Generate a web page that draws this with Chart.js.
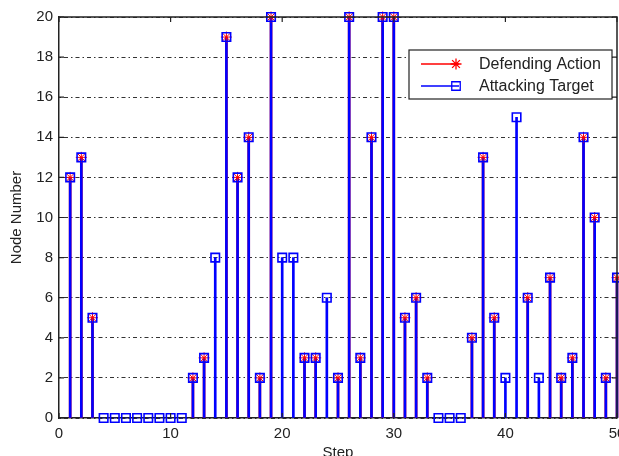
<!DOCTYPE html>
<html>
<head>
<meta charset="utf-8">
<script src="https://cdn.jsdelivr.net/npm/chart.js@4/dist/chart.umd.min.js"></script>
<style>
  html, body { margin: 0; padding: 0; background: #fff; }
  #wrap { width: 619px; height: 456px; }
</style>
</head>
<body>
<div id="wrap"><canvas id="stemChart" width="619" height="456"></canvas></div>
<script>
// Data
const steps = [1,2,3,4,5,6,7,8,9,10,11,12,13,14,15,16,17,18,19,20,21,22,23,24,25,
               26,27,28,29,30,31,32,33,34,35,36,37,38,39,40,41,42,43,44,45,46,47,48,49,50];
const attackingTarget = [12,13,5,0,0,0,0,0,0,0,0,2,3,8,19,12,14,2,20,8,8,3,3,6,2,
                         20,3,14,20,20,5,6,2,0,0,0,4,13,5,2,15,6,2,7,2,3,14,10,2,7];
// null = no defending action at that step
const defendingAction = [12,13,5,null,null,null,null,null,null,null,null,2,3,null,19,12,14,2,20,null,null,3,3,null,2,
                         20,3,14,20,20,5,6,2,null,null,null,4,13,5,null,null,6,null,7,2,3,14,10,2,7];
const xTicks = [0, 10, 20, 30, 40, 50];
const yTicks = [0, 2, 4, 6, 8, 10, 12, 14, 16, 18, 20];
const legendLabels = ['Defending Action', 'Attacking Target'];

const RED = '#ff0000';
const BLUE = '#0000ff';
const INK = '#222222';
const FONT = "'Liberation Sans', Arial, Helvetica, sans-serif";

const toPoints = vals => steps.map((s, i) => ({ x: s, y: vals[i] }));

// inward tick marks, top/right box edges and the legend box
const boxPlugin = {
    id: 'boxPlugin',
    afterDraw(chart) {
        const { ctx, chartArea: a, scales } = chart;
        ctx.save();
        ctx.strokeStyle = INK;
        ctx.lineWidth = 1.5;
        ctx.beginPath();
        ctx.moveTo(a.left, a.top);
        ctx.lineTo(a.right, a.top);
        ctx.lineTo(a.right, a.bottom);
        ctx.stroke();

        ctx.lineWidth = 1.2;
        ctx.beginPath();
        xTicks.forEach(v => {
            const px = scales.x.getPixelForValue(v);
            ctx.moveTo(px, a.bottom); ctx.lineTo(px, a.bottom - 5);
            ctx.moveTo(px, a.top); ctx.lineTo(px, a.top + 5);
        });
        yTicks.forEach(v => {
            const py = scales.y.getPixelForValue(v);
            ctx.moveTo(a.left, py); ctx.lineTo(a.left + 5, py);
            ctx.moveTo(a.right, py); ctx.lineTo(a.right - 5, py);
        });
        ctx.stroke();

        // legend
        const lx = a.left + 350, ly = a.top + 33, lw = 203, lh = 49;
        ctx.fillStyle = '#fff';
        ctx.fillRect(lx, ly, lw, lh);
        ctx.strokeStyle = INK;
        ctx.lineWidth = 1.2;
        ctx.strokeRect(lx, ly, lw, lh);

        const rows = [
            { color: RED, style: 'star', radius: 5.5, label: legendLabels[0], y: ly + 14 },
            { color: BLUE, style: 'rect', radius: 6, label: legendLabels[1], y: ly + 36 }
        ];
        rows.forEach(r => {
            ctx.strokeStyle = r.color;
            ctx.lineWidth = 1.3;
            ctx.beginPath();
            ctx.moveTo(lx + 12, r.y);
            ctx.lineTo(lx + 50, r.y);
            ctx.stroke();
            ctx.fillStyle = 'rgba(0,0,0,0)';
            ctx.lineWidth = 1.3;
            Chart.helpers.drawPoint(ctx, { pointStyle: r.style, radius: r.radius, borderWidth: 1.3 }, lx + 47, r.y);
            ctx.fillStyle = INK;
            ctx.font = '16px ' + FONT;
            ctx.textBaseline = 'middle';
            ctx.textAlign = 'left';
            ctx.fillText(r.label, lx + 70, r.y + 1);
        });
        ctx.restore();
    }
};

new Chart(document.getElementById('stemChart'), {
    type: 'bar',
    data: {
        datasets: [
            {
                label: 'Defending stems',
                data: toPoints(defendingAction),
                backgroundColor: RED,
                barThickness: 2,
                grouped: false,
                order: 4
            },
            {
                label: 'Attacking stems',
                data: toPoints(attackingTarget),
                backgroundColor: BLUE,
                barThickness: 2,
                grouped: false,
                order: 3
            },
            {
                type: 'line',
                label: legendLabels[0],
                data: toPoints(defendingAction),
                showLine: false,
                pointStyle: 'star',
                pointRadius: 5.5,
                pointBorderWidth: 1,
                pointBorderColor: RED,
                pointBackgroundColor: RED,
                order: 2
            },
            {
                type: 'line',
                label: legendLabels[1],
                data: toPoints(attackingTarget),
                showLine: false,
                pointStyle: 'rect',
                pointRadius: 6,
                pointBorderWidth: 1.6,
                pointBorderColor: BLUE,
                pointBackgroundColor: 'rgba(0,0,0,0)',
                order: 1
            }
        ]
    },
    options: {
        responsive: false,
        animation: false,
        clip: false,
        layout: { autoPadding: false, padding: { top: 17, right: 2, left: 0, bottom: 0 } },
        plugins: {
            legend: { display: false },
            tooltip: { enabled: false }
        },
        scales: {
            x: {
                type: 'linear',
                min: 0,
                max: 50,
                offset: false,
                afterFit: s => { s.height = 38; s.paddingLeft = 0; s.paddingRight = 0; },
                afterBuildTicks: s => { s.ticks = xTicks.map(v => ({ value: v })); },
                grid: { display: false, drawTicks: false },
                border: { display: true, color: INK, width: 1.5 },
                ticks: { color: INK, font: { family: FONT, size: 15 }, padding: 7, maxRotation: 0 },
                title: { display: true, text: 'Step', color: INK, font: { family: FONT, size: 15 }, padding: { top: 0, bottom: -6 } }
            },
            y: {
                min: 0,
                max: 20,
                afterFit: s => { s.width = 59; s.paddingTop = 0; s.paddingBottom = 0; },
                afterBuildTicks: s => { s.ticks = yTicks.map(v => ({ value: v })); },
                grid: { color: '#333', lineWidth: 1, drawTicks: false },
                border: { display: true, color: INK, width: 1.5, dash: [1.5, 3, 4, 3] },
                ticks: { color: INK, font: { family: FONT, size: 15 }, padding: 6 },
                title: { display: true, text: 'Node Number', color: INK, font: { family: FONT, size: 15 }, padding: { top: 8, bottom: 0 } }
            }
        }
    },
    plugins: [boxPlugin]
});
</script>
</body>
</html>
